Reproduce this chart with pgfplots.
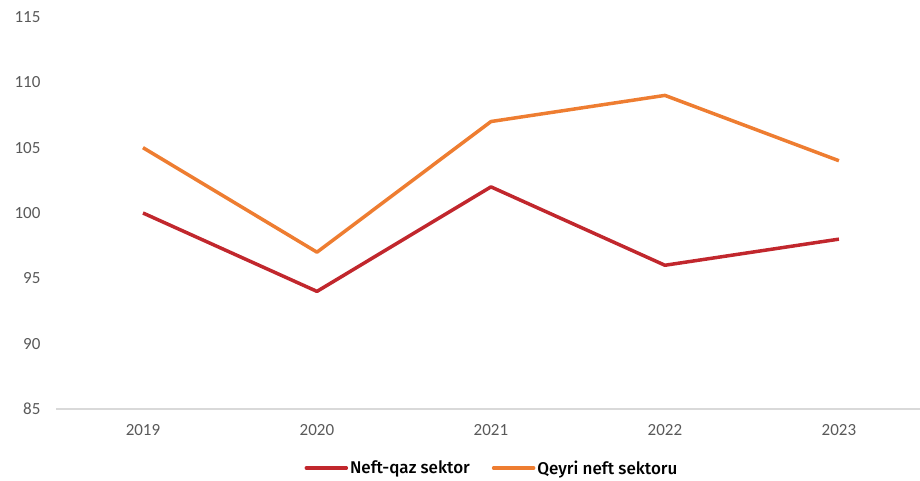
\documentclass[border=0pt]{standalone}
\usepackage{pgfplots}
\pgfplotsset{compat=1.18}
\usepackage{fontspec}
\setmainfont{Carlito}
\newfontfamily\legfont{Fira Sans Medium}

\definecolor{neftred}{HTML}{C1272D}
\definecolor{qeyriorange}{HTML}{EE7D31}
\definecolor{ticktext}{HTML}{595959}
\definecolor{axisgray}{HTML}{D9D9D9}

\begin{document}
\begin{tikzpicture}
\useasboundingbox (0,0) rectangle (920pt,481pt);
\begin{axis}[
    at={(56pt,72pt)}, anchor=south west,
    scale only axis,
    width=864pt, height=392pt,
    xmin=-0.5, xmax=4.466,
    ymin=85, ymax=115,
    ytick={85,90,...,115},
    xtick={0,1,2,3,4},
    xticklabels={2019,2020,2021,2022,2023},
    axis x line*=bottom,
    axis y line*=left,
    y axis line style={draw=none},
    x axis line style={draw=axisgray, line width=1.2pt},
    major tick length=0pt,
    tick label style={font=\fontsize{17}{20}\selectfont, text=ticktext},
    /pgf/number format/assume math mode=true,
    yticklabel style={xshift=-12pt},
    xticklabel style={yshift=-12pt},
    legend columns=2,
    legend style={at={(0.5,0)}, anchor=center, yshift=-59pt, xshift=4pt,
      draw=none, fill=none, font=\legfont\fontsize{17}{20}\selectfont,
      /tikz/every even column/.append style={column sep=20pt}},
    legend image code/.code={\draw[#1, line width=3.5pt, line cap=round] (0pt,0pt) -- (40pt,0pt);},
]
\addplot[neftred, line width=3.5pt, line join=round] coordinates {(0,100) (1,94) (2,102) (3,96) (4,98)};
\addplot[qeyriorange, line width=3.5pt, line join=round] coordinates {(0,105) (1,97) (2,107) (3,109) (4,104)};
\legend{Neft-qaz sektor, Qeyri neft sektoru}
\end{axis}
\end{tikzpicture}
\end{document}
